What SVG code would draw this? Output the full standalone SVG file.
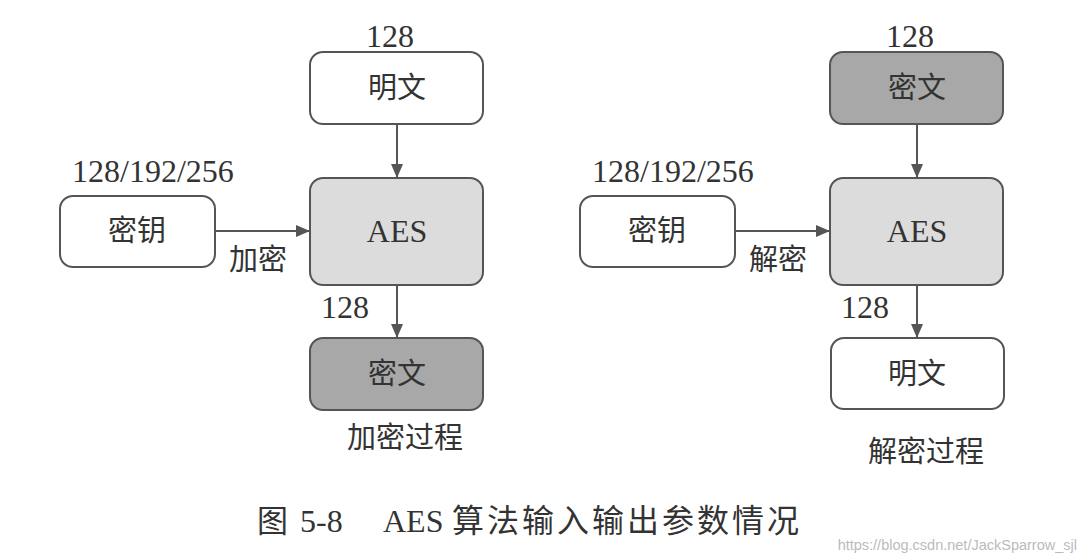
<svg xmlns="http://www.w3.org/2000/svg" width="1086" height="559" viewBox="0 0 1086 559">
<style>
.box{stroke:#555;stroke-width:2}
.w{fill:#fff}
.l{fill:#dcdcdc}
.d{fill:#a8a8a8}
.t{font-family:"Liberation Serif","Noto Sans CJK SC",serif;fill:#333}
.cjk{font-size:29px;text-anchor:middle;dominant-baseline:central}
.num{font-size:32px}
.conn line{stroke:#555;stroke-width:2}
</style>
<defs>
<marker id="ah" markerWidth="14" markerHeight="12" refX="13" refY="6" orient="auto" markerUnits="userSpaceOnUse">
<path d="M0,0 L14,6 L0,12 Z" fill="#555"/>
</marker>
</defs>
<rect width="1086" height="559" fill="#fff"/>

<g id="conns" class="conn">
<line x1="397" y1="125" x2="397" y2="177" marker-end="url(#ah)"/>
<line x1="215" y1="231" x2="309" y2="231" marker-end="url(#ah)"/>
<line x1="397" y1="285" x2="397" y2="337" marker-end="url(#ah)"/>
<line x1="917" y1="125" x2="917" y2="177" marker-end="url(#ah)"/>
<line x1="735" y1="231" x2="829" y2="231" marker-end="url(#ah)"/>
<line x1="917" y1="285" x2="917" y2="337" marker-end="url(#ah)"/>
</g>

<g id="enc-plain">
<rect class="box w" x="310" y="52" width="173" height="72" rx="13"/>
<text class="t cjk" x="397" y="88">明文</text>
<text class="t num" x="390" y="47" text-anchor="middle">128</text>
</g>
<g id="enc-aes">
<rect class="box l" x="310" y="178" width="173" height="107" rx="13"/>
<text class="t" x="397" y="242" font-size="32" text-anchor="middle">AES</text>
</g>
<g id="enc-key">
<rect class="box w" x="60" y="196" width="155" height="71" rx="13"/>
<text class="t cjk" x="137" y="231">密钥</text>
<text class="t num" x="72" y="182">128/192/256</text>
<text class="t cjk" x="258" y="260">加密</text>
</g>
<g id="enc-cipher">
<text class="t num" x="345" y="318" text-anchor="middle">128</text>
<rect class="box d" x="310" y="338" width="173" height="72" rx="13"/>
<text class="t cjk" x="397" y="374">密文</text>
<text class="t cjk" x="405" y="438" font-size="31">加密过程</text>
</g>

<g id="dec-cipher">
<rect class="box d" x="830" y="52" width="173" height="72" rx="13"/>
<text class="t cjk" x="917" y="88">密文</text>
<text class="t num" x="910" y="47" text-anchor="middle">128</text>
</g>
<g id="dec-aes">
<rect class="box l" x="830" y="178" width="173" height="107" rx="13"/>
<text class="t" x="917" y="242" font-size="32" text-anchor="middle">AES</text>
</g>
<g id="dec-key">
<rect class="box w" x="580" y="196" width="155" height="71" rx="13"/>
<text class="t cjk" x="657" y="231">密钥</text>
<text class="t num" x="592" y="182">128/192/256</text>
<text class="t cjk" x="778" y="260">解密</text>
</g>
<g id="dec-plain">
<text class="t num" x="865" y="318" text-anchor="middle">128</text>
<rect class="box w" x="831" y="338" width="173" height="71" rx="13"/>
<text class="t cjk" x="917" y="374">明文</text>
<text class="t cjk" x="926" y="452" font-size="31">解密过程</text>
</g>

<g id="caption">
<text class="t" y="532" font-size="31"><tspan x="257">图</tspan><tspan x="300" font-size="32">5-8</tspan><tspan x="383" font-size="32">AES</tspan><tspan x="452" font-size="32" letter-spacing="3">算法输入输出参数情况</tspan></text>
<text x="1077" y="550" font-family="Liberation Sans, sans-serif" font-size="14.5" fill="#bbb" text-anchor="end">https://blog.csdn.net/JackSparrow_sjl</text>
</g>
</svg>
